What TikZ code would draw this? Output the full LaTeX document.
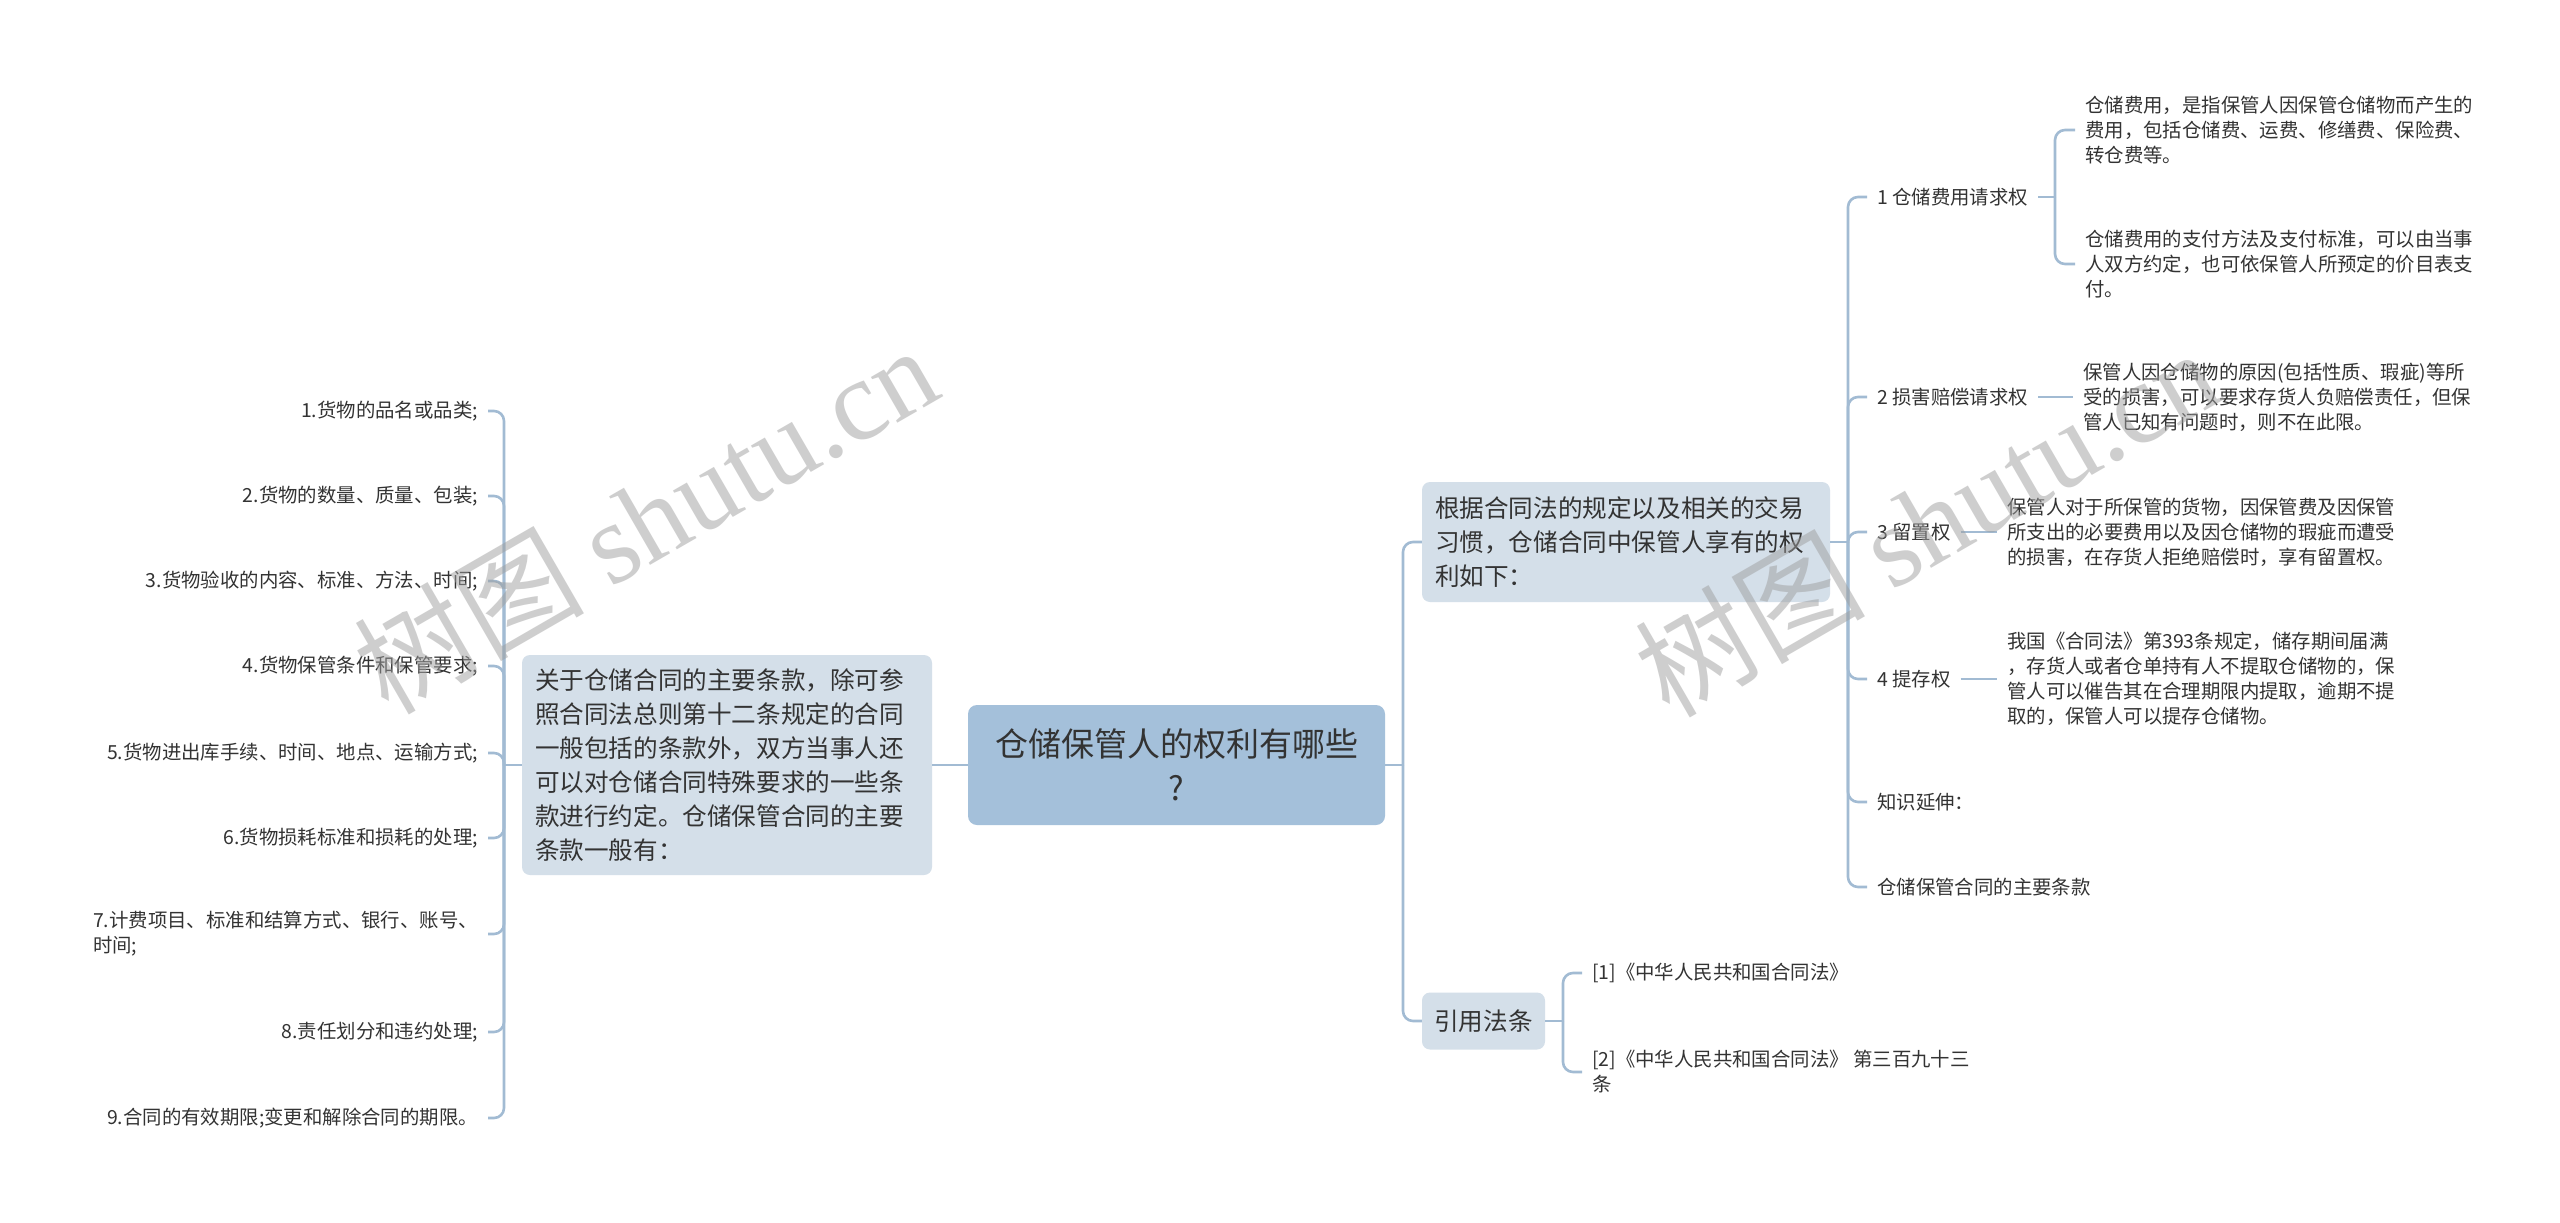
\documentclass[tikz,border=0pt]{standalone}
\usepackage{fontspec}
\setmainfont{Noto Sans CJK SC}
\newfontfamily\wmserif{Liberation Serif}
\definecolor{lc}{HTML}{A2BBD3}
\definecolor{rootbg}{HTML}{A4C0DA}
\definecolor{boxbg}{HTML}{D4DFE9}
\definecolor{tc}{HTML}{333333}
\begin{document}
\begin{tikzpicture}[x=1pt,y=-1pt,
 conn/.style={draw=lc,line width=2.6pt,rounded corners=10pt},
 rootbox/.style={fill=rootbg,rounded corners=9pt,text=tc,align=center,inner sep=0pt,font=\fontsize{33}{44}\selectfont},
 bigbox/.style={fill=boxbg,rounded corners=8pt,text=tc,align=left,inner ysep=0pt,font=\fontsize{24.6}{34}\selectfont},
 leaf/.style={text=tc,inner xsep=10pt,inner ysep=3pt,font=\fontsize{19.4}{25}\selectfont},
 wm/.style={text=black!38,opacity=0.5,rotate=30,font=\fontsize{115}{115}\selectfont}]
\fill[white] (0,0) rectangle (2560,1223);
\useasboundingbox (0,0) rectangle (2560,1223);

% main nodes
\node[rootbox,minimum width=417pt,minimum height=120pt] (root) at (1176.5,765) {仓储保管人的权利有哪些\\?};
\node[bigbox,inner xsep=13pt,text width=384pt,minimum height=220pt] (lbox) at (727,765) {关于仓储合同的主要条款，除可参\\照合同法总则第十二条规定的合同\\一般包括的条款外，双方当事人还\\可以对仓储合同特殊要求的一些条\\款进行约定。仓储保管合同的主要\\条款一般有：};
\node[bigbox,inner xsep=13pt,text width=382pt,minimum height=120pt] (rbox) at (1626,542) {根据合同法的规定以及相关的交易\\习惯，仓储合同中保管人享有的权\\利如下：};
\node[bigbox,inner sep=0pt,minimum width=123pt,minimum height=57pt,align=center] (law) at (1483.5,1021) {引用法条};

% left items
\node[leaf,anchor=east] (i1) at (488,411) {1.货物的品名或品类;};
\node[leaf,anchor=east] (i2) at (488,496) {2.货物的数量、质量、包装;};
\node[leaf,anchor=east] (i3) at (488,581) {3.货物验收的内容、标准、方法、时间;};
\node[leaf,anchor=east] (i4) at (488,666) {4.货物保管条件和保管要求;};
\node[leaf,anchor=east] (i5) at (488,753) {5.货物进出库手续、时间、地点、运输方式;};
\node[leaf,anchor=east] (i6) at (488,838) {6.货物损耗标准和损耗的处理;};
\node[leaf,anchor=east,align=left] (i7) at (488,934) {7.计费项目、标准和结算方式、银行、账号、\\时间;};
\node[leaf,anchor=east] (i8) at (488,1032) {8.责任划分和违约处理;};
\node[leaf,anchor=east] (i9) at (488,1118) {9.合同的有效期限;变更和解除合同的期限。};

% right labels
\node[leaf,anchor=west] (r1) at (1867,197) {1 仓储费用请求权};
\node[leaf,anchor=west] (r2) at (1867,397) {2 损害赔偿请求权};
\node[leaf,anchor=west] (r3) at (1867,532) {3 留置权};
\node[leaf,anchor=west] (r4) at (1867,679) {4 提存权};
\node[leaf,anchor=west] (r5) at (1867,802) {知识延伸：};
\node[leaf,anchor=west] (r6) at (1867,887) {仓储保管合同的主要条款};

% right details
\node[leaf,anchor=west,align=left] (r1a) at (2075,130) {仓储费用，是指保管人因保管仓储物而产生的\\费用，包括仓储费、运费、修缮费、保险费、\\转仓费等。};
\node[leaf,anchor=west,align=left] (r1b) at (2075,264) {仓储费用的支付方法及支付标准，可以由当事\\人双方约定，也可依保管人所预定的价目表支\\付。};
\node[leaf,anchor=west,align=left] (r2a) at (2073,397) {保管人因仓储物的原因(包括性质、瑕疵)等所\\受的损害，可以要求存货人负赔偿责任，但保\\管人已知有问题时，则不在此限。};
\node[leaf,anchor=west,align=left] (r3a) at (1997,532) {保管人对于所保管的货物，因保管费及因保管\\所支出的必要费用以及因仓储物的瑕疵而遭受\\的损害，在存货人拒绝赔偿时，享有留置权。};
\node[leaf,anchor=west,align=left] (r4a) at (1997,679) {我国《合同法》第393条规定，储存期间届满\\，存货人或者仓单持有人不提取仓储物的，保\\管人可以催告其在合理期限内提取，逾期不提\\取的，保管人可以提存仓储物。};

% law items
\node[leaf,anchor=west] (la) at (1582,973) {[1]《中华人民共和国合同法》};
\node[leaf,anchor=west,align=left] (lb) at (1582,1072) {[2]《中华人民共和国合同法》 第三百九十三\\条};

% junctions
\coordinate (lj) at (504,765);
\coordinate (rj) at (1403,765);
\coordinate (rj2) at (1848,542);
\coordinate (b1) at (2055,197);
\coordinate (lawj) at (1563,1021);

% connectors
\draw[conn] (root.west) -- (lbox.east);
\draw[conn] (lbox.west) -- (lj);
\foreach \k in {1,...,9} \draw[conn] (lj) |- (i\k.east);
\draw[conn] (root.east) -- (rj);
\draw[conn] (rj) |- (rbox.west);
\draw[conn] (rj) |- (law.west);
\draw[conn] (rbox.east) -- (rj2);
\foreach \k in {1,...,6} \draw[conn] (rj2) |- (r\k.west);
\draw[conn] (r1.east) -- (b1);
\draw[conn] (b1) |- (r1a.west);
\draw[conn] (b1) |- (r1b.west);
\draw[conn] (r2.east) -- (r2a.west);
\draw[conn] (r3.east) -- (r3a.west);
\draw[conn] (r4.east) -- (r4a.west);
\draw[conn] (law.east) -- (lawj);
\draw[conn] (lawj) |- (la.west);
\draw[conn] (lawj) |- (lb.west);

% watermarks
\node[wm] (wm1) at (645,518) {树图 {\wmserif shutu.cn}};
\node[wm] (wm2) at (1926,521) {树图 {\wmserif shutu.cn}};
\end{tikzpicture}
\end{document}
